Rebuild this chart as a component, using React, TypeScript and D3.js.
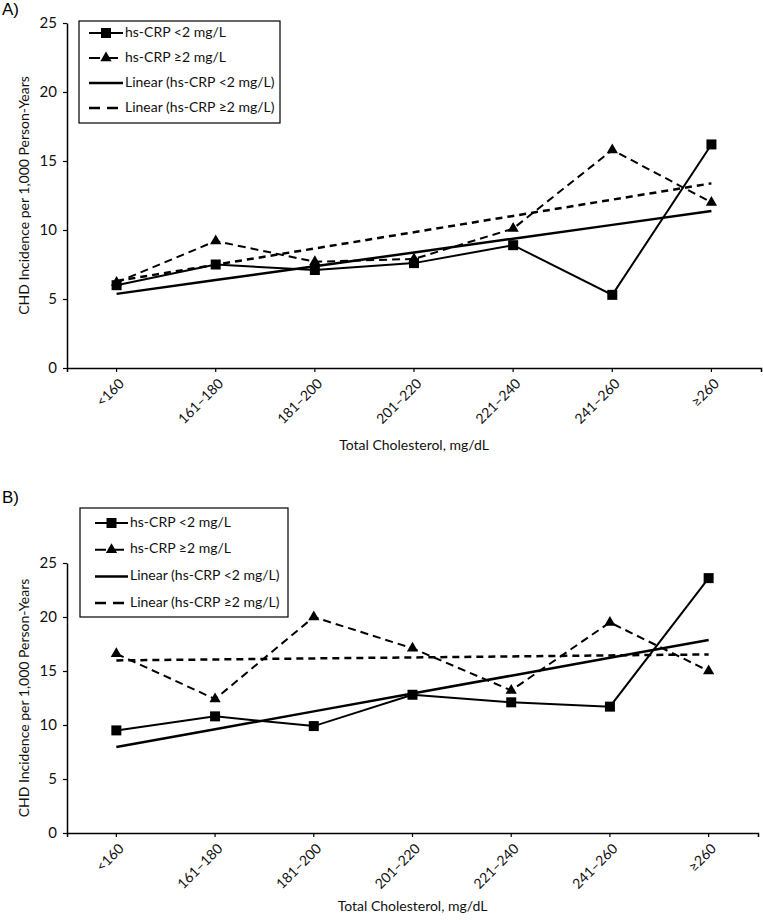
import React, { useEffect, useRef } from 'react';
import * as d3 from 'd3';

const categories = ['<160', '161–180', '181–200', '201–220', '221–240', '241–260', '≥260'];
const yTickValues = [0, 5, 10, 15, 20, 25];

// panel A
const lowCrpA = [6.0, 7.5, 7.1, 7.6, 8.9, 5.3, 16.2];
const highCrpA = [6.2, 9.2, 7.7, 7.9, 10.1, 15.8, 12.0];
// panel B
const lowCrpB = [9.5, 10.8, 9.9, 12.8, 12.1, 11.7, 23.6];
const highCrpB = [16.6, 12.4, 20.0, 17.1, 13.2, 19.5, 15.0];

const legendLabels = [
  'hs-CRP <2 mg/L',
  'hs-CRP ≥2 mg/L',
  'Linear (hs-CRP <2 mg/L)',
  'Linear (hs-CRP ≥2 mg/L)',
];
const yTitle = 'CHD Incidence per 1,000 Person-Years';
const xTitle = 'Total Cholesterol, mg/dL';

const FONT = 'Lato, "Liberation Sans", sans-serif';

const panels = [
  {
    letter: 'A)', letterY: 15, top: 23, bottom: 368, left: 67, right: 761,
    low: lowCrpA, high: highCrpA, xTitleY: 446,
    legend: { x: 79, y: 21, w: 201, h: 102, row0: 33, gap: 25, s0: 89, s1: 123 },
  },
  {
    letter: 'B)', letterY: 503, top: 563, bottom: 833, left: 67, right: 758,
    low: lowCrpB, high: highCrpB, xTitleY: 907,
    legend: { x: 80, y: 508, w: 208, h: 109, row0: 523, gap: 26.7, s0: 95, s1: 128 },
  },
];

// least squares fit on category index, same as Excel's linear trendline
const linearFit = (values: number[]) => {
  const xs = values.map((_, i) => i + 1);
  const mx = d3.mean(xs) as number;
  const my = d3.mean(values) as number;
  const sxy = d3.sum(xs, (x, i) => (x - mx) * (values[i] - my));
  const sxx = d3.sum(xs, (x) => (x - mx) ** 2);
  const slope = sxy / sxx;
  return xs.map((x) => my + slope * (x - mx));
};

const drawPanel = (root: any, p: any) => {
  const g = root.append('g');
  const x = d3.scaleBand().domain(categories).range([p.left, p.right]);
  const cx = (i: number) => (x(categories[i]) as number) + x.bandwidth() / 2;
  const y = d3.scaleLinear().domain([0, 25]).range([p.bottom, p.top]);

  g.append('text')
    .attr('x', 2)
    .attr('y', p.letterY)
    .attr('font-family', '"Liberation Sans", Arial, sans-serif')
    .attr('font-size', 17)
    .text(p.letter);

  // y axis
  const yAxisGroup = g
    .append('g')
    .attr('transform', `translate(${p.left},0)`)
    .call(d3.axisLeft(y).tickValues(yTickValues).tickSize(4).tickSizeOuter(0).tickPadding(6));
  yAxisGroup.attr('font-family', FONT).attr('font-size', 15);
  yAxisGroup.select('.domain').attr('stroke-width', 1.5);
  yAxisGroup.selectAll('line').attr('stroke-width', 1.2);
  yAxisGroup.selectAll('text').attr('fill', '#111');

  // x axis, ticks on categories plus the end tick
  const xAxisGroup = g
    .append('g')
    .attr('transform', `translate(0,${p.bottom})`)
    .call(d3.axisBottom(x).tickSize(4).tickSizeOuter(4).tickPadding(0));
  xAxisGroup.attr('font-family', FONT).attr('font-size', 14);
  xAxisGroup.select('.domain').attr('stroke-width', 1.5);
  xAxisGroup.selectAll('line').attr('stroke-width', 1.2);
  xAxisGroup
    .selectAll('text')
    .attr('x', 0)
    .attr('y', 0)
    .attr('dy', '0.35em')
    .attr('text-anchor', 'end')
    .attr('transform', 'translate(5,13) rotate(-45)')
    .attr('fill', '#111');

  g.append('text')
    .attr('transform', `translate(25,${(p.top + p.bottom) / 2}) rotate(-90)`)
    .attr('text-anchor', 'middle')
    .attr('dominant-baseline', 'middle')
    .attr('font-family', FONT)
    .attr('font-size', 14)
    .attr('fill', '#111')
    .text(yTitle);

  g.append('text')
    .attr('x', (p.left + p.right) / 2)
    .attr('y', p.xTitleY)
    .attr('text-anchor', 'middle')
    .attr('dominant-baseline', 'middle')
    .attr('font-family', FONT)
    .attr('font-size', 14)
    .attr('fill', '#111')
    .text(xTitle);

  const line = d3
    .line<number>()
    .x((_, i) => cx(i))
    .y((d) => y(d));

  // trendlines
  g.append('path')
    .attr('fill', 'none')
    .attr('stroke', '#000')
    .attr('stroke-width', 2.5)
    .attr('d', line(linearFit(p.low)));
  g.append('path')
    .attr('fill', 'none')
    .attr('stroke', '#000')
    .attr('stroke-width', 2.5)
    .attr('stroke-dasharray', '7,5')
    .attr('d', line(linearFit(p.high)));

  // series
  g.append('path')
    .attr('fill', 'none')
    .attr('stroke', '#000')
    .attr('stroke-width', 2)
    .attr('d', line(p.low));
  g.append('path')
    .attr('fill', 'none')
    .attr('stroke', '#000')
    .attr('stroke-width', 2)
    .attr('stroke-dasharray', '8,5')
    .attr('d', line(p.high));

  const tri = d3.symbol(d3.symbolTriangle, 55);
  g.selectAll('.tri')
    .data(p.high)
    .enter()
    .append('path')
    .attr('d', tri)
    .attr('transform', (d: number, i: number) => `translate(${cx(i)},${y(d)})`)
    .attr('fill', '#000');
  g.selectAll('.sq')
    .data(p.low)
    .enter()
    .append('rect')
    .attr('x', (_: number, i: number) => cx(i) - 5)
    .attr('y', (d: number) => y(d) - 5)
    .attr('width', 10)
    .attr('height', 10)
    .attr('fill', '#000');

  // legend
  const L = p.legend;
  const lg = g.append('g');
  lg.append('rect')
    .attr('x', L.x)
    .attr('y', L.y)
    .attr('width', L.w)
    .attr('height', L.h)
    .attr('fill', '#fff')
    .attr('stroke', '#000')
    .attr('stroke-width', 1.2);
  const mid = (L.s0 + L.s1) / 2;
  legendLabels.forEach((label, i) => {
    const ry = L.row0 + i * L.gap;
    lg.append('line')
      .attr('x1', L.s0)
      .attr('x2', L.s1)
      .attr('y1', ry)
      .attr('y2', ry)
      .attr('stroke', '#000')
      .attr('stroke-width', i < 2 ? 2 : 2.5)
      .attr('stroke-dasharray', i % 2 === 1 ? '11,7' : null);
    if (i === 0) {
      lg.append('rect')
        .attr('x', mid - 5)
        .attr('y', ry - 5)
        .attr('width', 10)
        .attr('height', 10)
        .attr('fill', '#000');
    }
    if (i === 1) {
      lg.append('path')
        .attr('d', tri())
        .attr('transform', `translate(${mid},${ry})`)
        .attr('fill', '#000');
    }
    lg.append('text')
      .attr('x', L.s1 + 2)
      .attr('y', ry)
      .attr('dominant-baseline', 'middle')
      .attr('font-family', FONT)
      .attr('font-size', 14)
      .attr('fill', '#111')
      .text(label);
  });
};

export default function App() {
  const svgRef = useRef<SVGSVGElement>(null);

  useEffect(() => {
    const svg = d3.select(svgRef.current);
    svg.selectAll('*').remove();
    panels.forEach((p) => drawPanel(svg, p));
  }, []);

  return (
    <svg
      ref={svgRef}
      width={763}
      height={920}
      style={{ position: 'absolute', left: 0, top: 0, background: '#fff' }}
    />
  );
}
